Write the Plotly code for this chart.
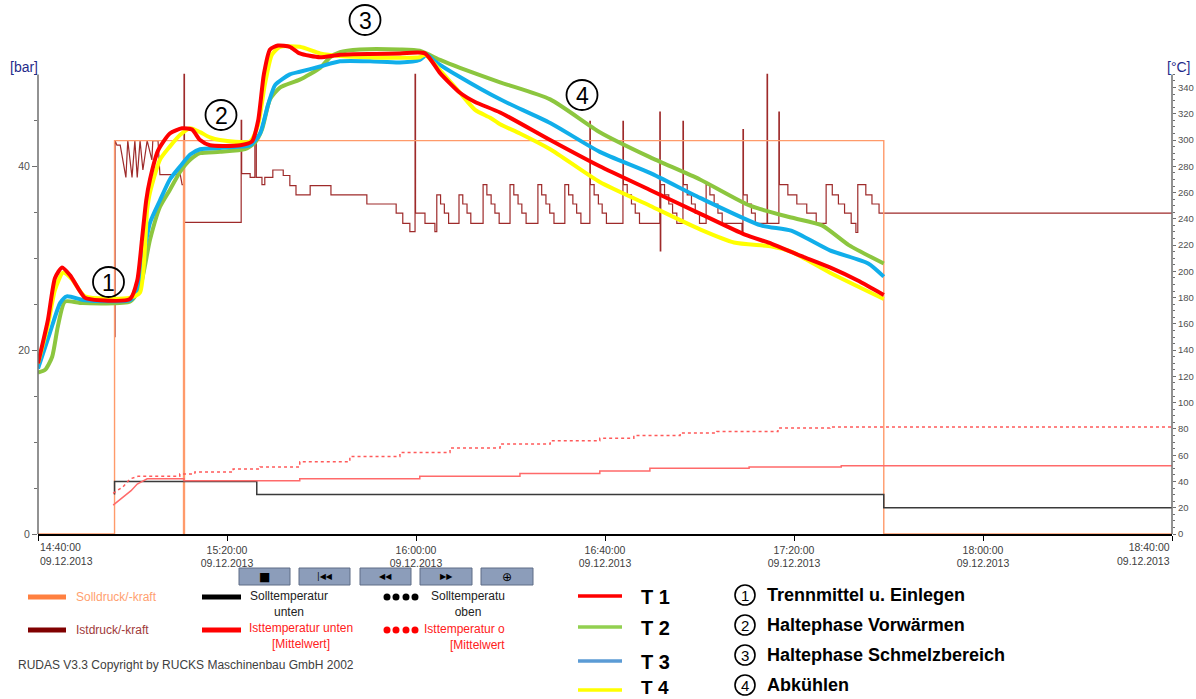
import plotly.graph_objects as go

FONT = "Liberation Sans, Arial, sans-serif"

# ---------------- data (time = minutes after 14:40:00, 09.12.2013) ----------------
tick_minutes = [0, 40, 80, 120, 160, 200, 240]
tick_labels = ["14:40:00<br>09.12.2013", "15:20:00<br>09.12.2013", "16:00:00<br>09.12.2013",
               "16:40:00<br>09.12.2013", "17:20:00<br>09.12.2013", "18:00:00<br>09.12.2013",
               "18:40:00<br>09.12.2013"]
bar_ticks = [0, 20, 40]
bar_minor = [5, 10, 15, 25, 30, 35, 45, 50]
degc_ticks = [0, 20, 40, 60, 80, 100, 120, 140, 160, 180, 200, 220, 240, 260, 280, 300, 320, 340]

# T1..T4 in degC
t1_min = [0, 2.1, 3.6, 5.1, 6.8, 9.9, 13.1, 19.5, 21.0, 22.0, 22.9, 23.7, 25.4, 27.9, 30.5, 32.6, 34.3,
          36.4, 42.8, 45.3, 46.6, 47.8, 49.1, 50.8, 53.3, 55.4, 59.7, 63.9, 76.6, 81.9, 85.1, 89.3, 92.5,
          97.8, 108.4, 118.9, 129.5, 140.1, 149.6, 155.3, 161.3, 167.6, 173.5, 179.0]
t1_val = [130, 163, 195, 203, 197, 180, 178, 179, 193, 224, 254, 270, 292, 305, 309, 308, 300, 296, 296,
          299, 315, 350, 369, 372, 371, 366, 363, 365, 366, 366, 351, 336, 329, 321, 300, 280, 262, 244,
          228, 221, 212, 203, 193, 182]

t2_min = [0, 1.5, 3.0, 4.2, 5.7, 8.9, 19.5, 21.6, 23.7, 25.8, 27.9, 30.1, 32.2, 34.3, 38.5, 43.8, 45.9,
          47.4, 49.1, 51.2, 55.4, 59.7, 61.8, 63.9, 68.1, 76.6, 80.8, 85.1, 89.3, 97.8, 108.4, 118.9,
          129.5, 140.1, 150.7, 159.4, 165.9, 171.6, 179.0]
t2_val = [123, 125, 135, 158, 177, 176, 177, 188, 224, 249, 262, 276, 285, 290, 291, 293, 298, 308, 331,
          340, 346, 355, 363, 367, 369, 369, 368, 361, 355, 344, 331, 306, 287, 270, 250, 241, 235, 220, 206]

t3_min = [0, 2.5, 4.7, 6.1, 9.9, 19.5, 20.5, 21.6, 23.7, 25.8, 27.9, 30.1, 32.2, 34.3, 38.5, 42.8, 44.9,
          47.0, 48.7, 50.2, 53.3, 55.4, 59.7, 63.9, 70.3, 76.6, 80.8, 82.3, 84.0, 89.3, 97.8, 108.4,
          118.9, 129.5, 140.1, 153.0, 159.4, 167.6, 175.7, 179.0]
t3_val = [126, 153, 176, 181, 178, 178, 182, 199, 237, 254, 270, 280, 289, 293, 294, 295, 296, 305, 327,
          342, 350, 352, 356, 360, 360, 359, 361, 365, 360, 348, 331, 313, 291, 275, 256, 235, 231, 216,
          206, 196]

t4_min = [0, 2.1, 3.6, 5.3, 7.2, 9.9, 19.5, 21.6, 23.1, 23.7, 25.8, 27.9, 30.1, 32.2, 34.3, 36.4, 38.5,
          44.9, 46.6, 48.0, 49.5, 51.2, 55.4, 59.7, 63.9, 70.3, 80.8, 81.9, 85.1, 89.3, 92.5, 95.7, 97.8,
          102.0, 108.4, 118.9, 129.5, 140.1, 147.3, 155.3, 159.4, 167.6, 179.0]
t4_val = [130, 159, 186, 199, 194, 181, 180, 184, 247, 260, 285, 295, 304, 309, 306, 302, 300, 299, 312,
          342, 365, 371, 371, 366, 364, 363, 363, 365, 353, 336, 323, 317, 312, 305, 293, 268, 250, 232,
          222, 219, 215, 199, 179]

# Solldruck/-kraft (bar)
soll_min = [0, 16.2, 16.2, 30.8, 30.8, 31.0, 31.0, 179.0, 179.0, 240]
soll_bar = [0, 0, 42.8, 42.8, 0, 0, 42.8, 42.8, 0, 0]

# Istdruck/-kraft (bar): first part, linear zigzag
ist_zig_min = [16.3, 16.3, 16.7, 17.4, 18.6, 19.0, 19.9, 20.5, 21.0, 21.6, 22.2, 23.1, 24.1, 24.3, 25.4,
               25.8, 29.4, 30.0, 30.5, 30.85]
ist_zig_bar = [21.4, 42.8, 42.3, 42.3, 38.8, 42.8, 38.8, 42.8, 38.8, 42.8, 39.6, 42.8, 40.7, 42.8, 42.8,
               39.1, 39.1, 39.4, 38.0, 38.0]
# Istdruck/-kraft (bar): stepped part
ist_step_min = [30.85, 30.9, 31.0, 43.0, 43.1, 44.9, 45.9, 46.2, 47.4, 48.0, 49.7, 51.9, 53.3, 54.6, 57.6,
                62.0, 69.6, 75.8, 77.2, 78.7, 79.8, 79.9, 81.9, 84.0,
                84.4, 85.2, 86.0, 86.9,
                89.1, 89.9, 90.8, 91.6,
                94.2, 95.0, 95.9, 96.7, 97.6,
                99.9, 100.7, 101.6, 102.4, 103.3,
                105.8, 106.6, 107.5, 108.3, 109.2,
                111.5, 112.3, 113.2, 114.0, 114.9,
                116.8, 116.9, 117.7, 118.6, 119.4, 120.3,
                123.8, 123.9, 124.7, 125.6, 126.4, 127.3,
                131.6, 131.7, 131.8, 132.6, 133.5, 134.3, 135.2,
                136.5, 136.6, 137.4, 138.3, 139.1, 140.0,
                141.4, 142.2, 143.1, 143.9, 144.8,
                149.0, 149.2, 149.3, 150.1, 151.0, 151.8,
                154.3, 154.4,
                156.8, 156.9, 158.7, 160.6, 162.7, 164.7,
                166.8, 168.1, 169.4, 170.7, 172.1, 173.1,
                173.5, 175.2, 176.5, 178.0, 240.0]
ist_step_bar = [38.0, 50.0, 33.9, 45.0, 39.2, 38.8, 42.5, 38.8, 38.0, 38.8, 39.6, 39.0, 37.9, 36.9, 37.9,
                36.9, 35.9, 34.9, 33.8, 32.9, 50.0, 34.9, 33.8, 32.9,
                36.9, 35.9, 34.9, 33.8,
                36.9, 35.9, 34.9, 33.8,
                38.0, 36.9, 35.9, 34.9, 33.8,
                38.0, 36.9, 35.9, 34.9, 33.8,
                38.0, 36.9, 35.9, 34.9, 33.8,
                38.0, 36.9, 35.9, 34.9, 33.8,
                44.9, 38.0, 36.9, 35.9, 34.9, 33.8,
                44.9, 38.0, 36.9, 35.9, 34.9, 33.8,
                45.9, 30.8, 38.0, 36.9, 35.9, 34.9, 33.8,
                44.9, 38.0, 36.9, 35.9, 34.9, 33.8,
                38.0, 36.9, 35.9, 34.9, 33.8,
                32.8, 44.0, 36.9, 35.9, 34.9, 33.8,
                50.0, 33.8,
                45.9, 38.0, 36.9, 35.9, 34.9, 33.8,
                38.0, 36.9, 35.9, 34.9, 33.8, 32.8,
                38.0, 36.9, 35.9, 34.9, 34.9]

# Solltemperatur unten (degC)
sollT_min = [16.2, 16.2, 46.3, 46.3, 179.0, 179.0, 240]
sollT_val = [30, 40, 40, 30, 30, 20, 20]

# Isttemperatur unten [Mittelwert] (degC)
istTu_min = [15.9, 17.6, 19.7, 21.0, 23.1, 30.9, 30.9, 55.4, 55.4, 80.8, 80.8, 102.0, 102.0, 118.9,
             118.9, 129.5, 129.5, 150.5, 150.5, 170.0, 170.0, 240]
istTu_val = [22, 27, 33, 38, 42, 42, 40.5, 40.5, 42, 42, 44, 44, 46, 46, 48, 48, 50, 50, 51, 51, 52, 52]

# Isttemperatur oben [Mittelwert] (degC)
istTo_min = [15.9, 18.0, 19.5, 21.2, 30.0, 30.0, 33.2, 33.2, 41.3, 41.3, 47.0, 47.0, 55.4, 55.4, 66.0,
             66.0, 76.6, 76.6, 87.2, 87.2, 97.8, 97.8, 108.4, 108.4, 118.9, 118.9, 126.1, 126.1, 135.9,
             135.9, 143.7, 143.7, 156.6, 156.6, 167.6, 167.6, 240]
istTo_val = [31, 36, 42, 44, 44, 45.7, 45.7, 47.2, 47.2, 49.5, 49.5, 51, 51, 55, 55, 59, 59, 62, 62, 65.5,
             65.5, 68.5, 68.5, 71, 71, 73, 73, 75, 75, 77, 77, 78, 78, 80.7, 80.7, 81.5, 81.5]

# ---------------- layout geometry ----------------
W, H = 1196, 699
ML, MR, MT, MB = 38, 24, 35, 165
PW = W - ML - MR
PH = H - MT - MB
YMAX_C = 380.0
YMAX_BAR = YMAX_C / 7.0


def px(x):
    return (x - ML) / PW


def py(y):
    return (H - MB - y) / PH


fig = go.Figure()

# pressure traces (left axis)
fig.add_trace(go.Scatter(x=ist_zig_min, y=ist_zig_bar, mode="lines", yaxis="y",
                         line=dict(color="#9E2A2A", width=1.2), hoverinfo="skip"))
fig.add_trace(go.Scatter(x=ist_step_min, y=ist_step_bar, mode="lines", yaxis="y",
                         line=dict(color="#9E2A2A", width=1.2, shape="hv"), hoverinfo="skip"))
fig.add_trace(go.Scatter(x=soll_min, y=soll_bar, mode="lines", yaxis="y", cliponaxis=False,
                         line=dict(color="#FF9A6A", width=1.4), hoverinfo="skip"))

# lower temperature traces (right axis)
fig.add_trace(go.Scatter(x=sollT_min, y=sollT_val, mode="lines", yaxis="y2",
                         line=dict(color="#3A3A3A", width=1.5), hoverinfo="skip"))
fig.add_trace(go.Scatter(x=istTu_min, y=istTu_val, mode="lines", yaxis="y2",
                         line=dict(color="#FF6A6A", width=1.5), hoverinfo="skip"))
fig.add_trace(go.Scatter(x=istTo_min, y=istTo_val, mode="lines", yaxis="y2",
                         line=dict(color="#FF5A5A", width=1.5, dash="dot"), hoverinfo="skip"))

# T1..T4
for xs, ys, col in [(t2_min, t2_val, "#8CC63F"), (t3_min, t3_val, "#11AEEA"),
                    (t4_min, t4_val, "#FFFF00"), (t1_min, t1_val, "#FF0000")]:
    fig.add_trace(go.Scatter(x=xs, y=ys, mode="lines", yaxis="y2",
                             line=dict(color=col, width=4, shape="spline", smoothing=0.6),
                             hoverinfo="skip"))

shapes = []
annotations = []

# axis lines (left / right) ending at 50 bar / 350 degC
for xp in (0, 1):
    shapes.append(dict(type="line", xref="paper", yref="paper", x0=xp, x1=xp, y0=0, y1=350 / YMAX_C,
                       line=dict(color="#6E6E6E", width=1.5)))

# axis unit labels
annotations.append(dict(x=px(8), y=py(67), xref="paper", yref="paper", text="[bar]", showarrow=False,
                        xanchor="left", yanchor="middle",
                        font=dict(family=FONT, size=14, color="#1F2A8A")))
annotations.append(dict(x=px(1193), y=py(67), xref="paper", yref="paper", text="[°C]", showarrow=False,
                        xanchor="right", yanchor="middle",
                        font=dict(family=FONT, size=14, color="#1F2A8A")))

# x tick labels at the two ends
annotations.append(dict(x=tick_minutes[0], y=py(539), xref="x", yref="paper", text=tick_labels[0],
                        showarrow=False, xanchor="left", yanchor="top", align="left",
                        font=dict(family=FONT, size=10.5, color="#404040")))
annotations.append(dict(x=tick_minutes[-1], y=py(539), xref="x", yref="paper", text=tick_labels[-1],
                        showarrow=False, xanchor="right", yanchor="top", align="right",
                        font=dict(family=FONT, size=10.5, color="#404040")))

# circled phase numbers in the chart
for cx, cy, num in [(108.5, 282, "1"), (221, 115, "2"), (365, 20, "3"), (582, 95, "4")]:
    shapes.append(dict(type="circle", xref="paper", yref="paper", xsizemode="pixel", ysizemode="pixel",
                       xanchor=px(cx), yanchor=py(cy), x0=-15.5, x1=15.5, y0=-15, y1=15,
                       line=dict(color="#000000", width=1.8)))
    annotations.append(dict(x=px(cx), y=py(cy + 1), xref="paper", yref="paper", text=num, showarrow=False,
                            xanchor="center", yanchor="middle",
                            font=dict(family=FONT, size=23, color="#000000")))

# control buttons
buttons = [(239, 290, "■", 12), (299, 350, "|◀◀", 8), (360, 411, "◀◀", 8), (420, 472, "▶▶", 8),
           (481, 533, "⊕", 12)]
for x0, x1, icon, fs in buttons:
    shapes.append(dict(type="rect", xref="paper", yref="paper", x0=px(x0), x1=px(x1), y0=py(585), y1=py(568),
                       fillcolor="#8C9DBA", line=dict(color="#5E6C86", width=1)))
    annotations.append(dict(x=px((x0 + x1) / 2), y=py(576.5), xref="paper", yref="paper", text=icon,
                            showarrow=False, xanchor="center", yanchor="middle",
                            font=dict(family="DejaVu Sans", size=fs, color="#000000")))

# legend swatches
for x0, x1, yy, col in [(28, 66, 597, "#FF8040"), (28, 66, 630, "#800000"),
                        (202, 241, 597, "#000000"), (202, 241, 630, "#FF0000")]:
    shapes.append(dict(type="line", xref="paper", yref="paper", x0=px(x0), x1=px(x1), y0=py(yy), y1=py(yy),
                       line=dict(color=col, width=5)))
for yy, col in [(597, "#000000"), (630, "#FF0000")]:
    for cx in (387, 396, 406, 415):
        shapes.append(dict(type="circle", xref="paper", yref="paper", xsizemode="pixel", ysizemode="pixel",
                           xanchor=px(cx), yanchor=py(yy), x0=-3.5, x1=3.5, y0=-3.5, y1=3.5,
                           fillcolor=col, line=dict(color=col, width=0)))


def txt(x, y, text, size=12, color="#000000", xanchor="left", align="left", family=FONT):
    annotations.append(dict(x=px(x), y=py(y), xref="paper", yref="paper", text=text, showarrow=False,
                            xanchor=xanchor, yanchor="middle", align=align,
                            font=dict(family=family, size=size, color=color)))


txt(74, 597, "Solldruck/-kraft", color="#FF9F6F")
txt(74, 630, "Istdruck/-kraft", color="#A03A3A")
txt(289, 604, "Solltemperatur<br>unten", color="#222222", xanchor="center", align="center")
txt(301, 636, "Isttemperatur unten<br>[Mittelwert]", color="#FF2020", xanchor="center", align="center")
txt(468, 604, "Solltemperatu<br>oben", color="#222222", xanchor="center", align="center")
txt(507, 637, "Isttemperatur o<br>[Mittelwert", color="#FF2020", xanchor="right", align="right")
txt(16, 665, "RUDAS V3.3 Copyright by RUCKS Maschinenbau GmbH 2002", color="#404040")

# T legend
for yy, ty, col, lab, fs in [(596, 597, "#FF0000", "T 1", 20), (627, 628, "#92D050", "T 2", 20),
                             (661, 662, "#5B9BD5", "T 3", 20), (690, 687.5, "#FFFF00", "T 4", 19)]:
    shapes.append(dict(type="line", xref="paper", yref="paper", x0=px(578), x1=px(622), y0=py(yy), y1=py(yy),
                       line=dict(color=col, width=3.5)))
    txt(639, ty, "<b>" + lab + "</b>", size=fs)

# phase legend
for yy, num, lab in [(595, "1", "Trennmittel u. Einlegen"), (625, "2", "Haltephase Vorwärmen"),
                     (655, "3", "Haltephase Schmelzbereich"), (685, "4", "Abkühlen")]:
    shapes.append(dict(type="circle", xref="paper", yref="paper", xsizemode="pixel", ysizemode="pixel",
                       xanchor=px(745), yanchor=py(yy), x0=-10, x1=10, y0=-10, y1=10,
                       line=dict(color="#000000", width=1.6)))
    txt(745, yy + 0.5, num, size=15, xanchor="center", align="center")
    txt(765, yy, "<b>" + lab + "</b>", size=18)

fig.update_layout(
    width=W, height=H, autosize=False,
    margin=dict(l=ML, r=MR, t=MT, b=MB, pad=0, autoexpand=False),
    paper_bgcolor="white", plot_bgcolor="white",
    showlegend=False,
    font=dict(family=FONT, color="#404040"),
    xaxis=dict(range=[0, 240], tickmode="array", tickvals=tick_minutes,
               ticktext=[""] + tick_labels[1:-1] + [""], automargin=False,
               ticks="outside", ticklen=5, tickcolor="#000000", tickwidth=1,
               showline=True, linecolor="#000000", linewidth=2, layer="below traces",
               showgrid=False, zeroline=False,
               tickfont=dict(family=FONT, size=10.5, color="#404040")),
    yaxis=dict(range=[0, YMAX_BAR], tickmode="array", tickvals=bar_ticks,
               ticktext=[str(v) for v in bar_ticks], automargin=False,
               ticks="outside", ticklen=5, tickcolor="#6E6E6E", showline=False,
               showgrid=False, zeroline=False,
               minor=dict(tickmode="array", tickvals=bar_minor, ticks="outside", ticklen=3,
                          tickcolor="#6E6E6E"),
               tickfont=dict(family=FONT, size=10.5, color="#505050")),
    yaxis2=dict(range=[0, YMAX_C], overlaying="y", side="right", tickmode="array",
                tickvals=degc_ticks, ticktext=[str(v) for v in degc_ticks], automargin=False,
                ticks="outside", ticklen=3, tickcolor="#6E6E6E", showline=False,
                showgrid=False, zeroline=False,
                minor=dict(tickmode="array",
                           tickvals=[v for v in range(5, 351, 5) if v % 20 != 0],
                           ticks="outside", ticklen=2, tickcolor="#6E6E6E"),
                tickfont=dict(family=FONT, size=9.5, color="#505050")),
    shapes=shapes,
    annotations=annotations,
)

fig.write_html("out.html")
